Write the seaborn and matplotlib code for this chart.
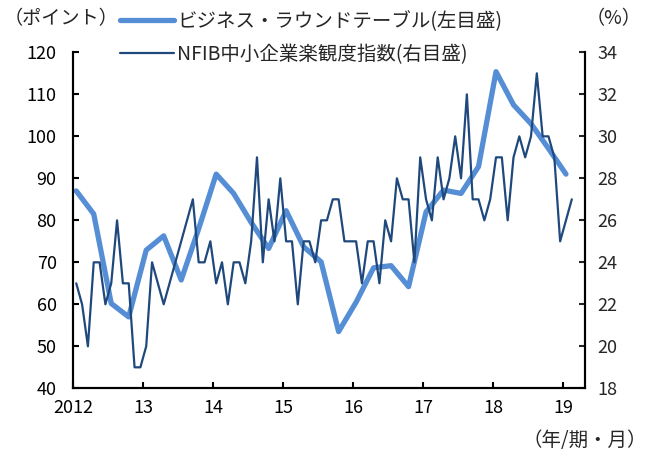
import numpy as np
import pandas as pd
import matplotlib.pyplot as plt
import seaborn as sns

# ビジネス・ラウンドテーブル (四半期, 左目盛, ポイント)
brt_quarters = pd.period_range("2012Q1", "2019Q1", freq="Q")
brt_values = [87.0, 81.5, 60.2, 57.0,
              72.9, 76.3, 65.8, 78.0,
              91.0, 86.4, 79.5, 73.3,
              82.3, 73.7, 70.1, 53.5,
              60.5, 68.7, 69.2, 64.2,
              82.0, 87.2, 86.4, 92.8,
              115.4, 107.5, 103.0, 97.1,
              91.0]

# NFIB中小企業楽観度指数 (月次, 右目盛, %)
nfib_months = pd.period_range("2012-01", "2019-02", freq="M")
nfib_values = [23, 22, 20, 24, 24, 22, 23, 26, 23, 23, 19, 19,
               20, 24, 23, 22, 23, 24, 25, 26, 27, 24, 24, 25,
               23, 24, 22, 24, 24, 23, 25, 29, 24, 27, 25, 28,
               25, 25, 22, 25, 25, 24, 26, 26, 27, 27, 25, 25,
               25, 23, 25, 25, 23, 26, 25, 28, 27, 27, 24, 29,
               27, 26, 29, 27, 28, 30, 28, 32, 27, 27, 26, 27,
               29, 29, 26, 29, 30, 29, 30, 33, 30, 30, 29, 25,
               26, 27]

year_ticks = list(range(2012, 2020))
year_labels = ["2012", "13", "14", "15", "16", "17", "18", "19"]

brt_label = "ビジネス・ラウンドテーブル(左目盛)"
nfib_label = "NFIB中小企業楽観度指数(右目盛)"

# 月の中央に点を置く (四半期は中央月)
brt = pd.DataFrame({
    "x": [p.year + (3 * p.quarter - 2.5) / 12 for p in brt_quarters],
    "value": brt_values,
})
nfib = pd.DataFrame({
    "x": [p.year + (p.month - 0.5) / 12 for p in nfib_months],
    "value": nfib_values,
})

sns.set_style("white")
plt.rcParams["font.family"] = ["Noto Sans CJK JP", "DejaVu Sans"]

light_blue = "#558ED5"
navy = "#1F497D"

fig = plt.figure(figsize=(6.49, 4.54), dpi=100)
ax = fig.add_axes([0.113, 0.1447, 0.788, 0.740])
ax2 = ax.twinx()

sns.lineplot(data=brt, x="x", y="value", ax=ax, color=light_blue,
             linewidth=3.8, legend=False)
sns.lineplot(data=nfib, x="x", y="value", ax=ax2, color=navy,
             linewidth=1.6, legend=False)

ax.set_xlim(2012, 2019.31)
ax.set_ylim(40, 120)
ax2.set_ylim(18, 34)
ax.set_yticks(range(40, 121, 10))
ax2.set_yticks(range(18, 35, 2))
ax.set_xticks(year_ticks)
ax.set_xticklabels(year_labels)
ax.set_xlabel("")
ax.set_ylabel("")
ax2.set_ylabel("")

for a in (ax, ax2):
    a.spines["top"].set_visible(False)
    for s in ("left", "right", "bottom"):
        a.spines[s].set_color("black")
        a.spines[s].set_linewidth(1.5)
ax.tick_params(axis="both", direction="in", length=4, width=1.5,
               labelsize=13, colors="black")
ax.tick_params(axis="y", pad=12, left=True)
ax.tick_params(axis="x", pad=8, bottom=True)
ax2.tick_params(axis="y", direction="in", length=4, width=1.5,
                labelsize=13, pad=9, right=True)

handles = [ax.lines[0], ax2.lines[0]]
fig.legend(handles, [brt_label, nfib_label], loc="center left",
           bbox_to_anchor=(0.185, 0.917), frameon=False, fontsize=14,
           handlelength=2.75, handletextpad=0.2, labelspacing=0.62,
           borderpad=0, borderaxespad=0)

fig.text(0.006, 0.958, "（ポイント）", fontsize=13.8, va="center", ha="left")
fig.text(0.988, 0.958, "（%）", fontsize=13.8, va="center", ha="right")
fig.text(0.997, 0.03, "（年/期・月）", fontsize=14, va="center", ha="right")

fig.savefig("out.png", dpi=100)
